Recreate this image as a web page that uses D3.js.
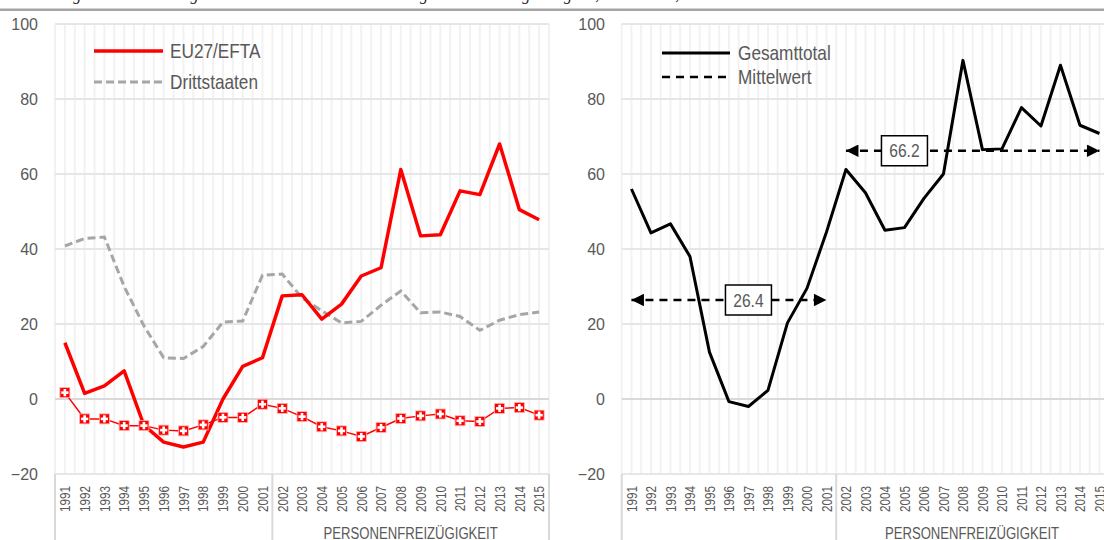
<!DOCTYPE html>
<html><head><meta charset="utf-8">
<script src="https://cdn.jsdelivr.net/npm/d3@7"></script>
<style>
html,body{margin:0;padding:0;background:#fff;}
svg{display:block;}
</style></head>
<body>
<svg id="chart" width="1104" height="540"></svg>
<script>
// ---- data ----
const years = ["1991","1992","1993","1994","1995","1996","1997","1998","1999","2000","2001","2002","2003","2004","2005","2006","2007","2008","2009","2010","2011","2012","2013","2014","2015"];
const euEfta = [15,1.5,3.5,7.5,-7,-11.5,-12.8,-11.5,0,8.7,11,27.5,27.8,21.3,25.3,32.8,35,61.2,43.5,43.8,55.5,54.5,68,50.5,47.8];
const drittstaaten = [40.8,42.8,43.2,30,19.5,11,10.8,14,20.5,20.8,33,33.3,27,23.5,20.3,20.7,25,28.8,23,23.2,22,18.3,21,22.5,23.2];
const schweiz = [1.7,-5.3,-5.3,-7.1,-7.1,-8.3,-8.5,-6.9,-4.9,-4.9,-1.4,-2.5,-4.7,-7.4,-8.5,-10,-7.6,-5.2,-4.5,-4,-5.8,-6,-2.5,-2.3,-4.3];
const gesamttotal = [56,44.3,46.7,38,12.5,-0.7,-2,2.3,20.3,29.5,44.5,61.2,55,45,45.7,53.5,60,90.3,66.5,66.7,77.7,72.8,89,73,70.8];
const mittelwert = [
  {from:"1991", to:"2001", value:26.4, label:"26.4", at:"1997"},
  {from:"2002", to:"2015", value:66.2, label:"66.2", at:"2005"}
];
const yTicks = [-20,0,20,40,60,80,100];
const groupLabel = "PERSONENFREIZÜGIGKEIT";
const groupStart = "2002";
const legendLeft = ["EU27/EFTA","Drittstaaten"];
const legendRight = ["Gesamttotal","Mittelwert"];
const caption = "Wanderungssaldo der ständigen ausländischen Wohnbevölkerung nach Staatsangehörigkeit, 1991–2015, in Tausend";

const svg = d3.select("#chart");
const SANS = "'Liberation Sans',Arial,sans-serif";
const TXT = "#595959";
const NX = 0.82; // horizontal condensing to imitate a narrow face

function narrowText(parent, x, y, str, size, anchor) {
  return parent.append("text")
    .attr("transform",`translate(${x},${y}) scale(${NX},1)`)
    .attr("dy","0.35em").attr("text-anchor",anchor||"start")
    .attr("font-family",SANS).attr("font-size",size).attr("fill",TXT).text(str);
}

// caption (cut at top) and rule
svg.append("text").attr("x",8).attr("y",0)
  .attr("font-family","'Liberation Serif',serif").attr("font-style","italic")
  .attr("font-size",16).attr("fill","#222").text(caption);
svg.append("rect").attr("x",0).attr("y",8.5).attr("width",1104).attr("height",2.5).attr("fill","#a6a6a6");

const y = d3.scaleLinear().domain([-20,100]).range([474,24]);

function panel(x0, x1, axisX, rightClip) {
  const g = svg.append("g");
  const x = d3.scaleBand().domain(years).range([x0,x1]).paddingInner(0).paddingOuter(0);
  const bw = x.bandwidth();
  // vertical gridlines (band edges + centers)
  const vlines = [];
  years.forEach(yr => { vlines.push(x(yr)); vlines.push(x(yr)+bw/2); });
  vlines.push(x1);
  g.append("g").selectAll("line").data(vlines).join("line")
    .attr("x1",d=>d).attr("x2",d=>d).attr("y1",y(100)).attr("y2",y(-20))
    .attr("stroke","#f2f2f2").attr("stroke-width",2);
  // horizontal gridlines
  g.append("g").selectAll("line").data(yTicks).join("line")
    .attr("x1",x0).attr("x2",Math.min(x1,rightClip)).attr("y1",d=>y(d)).attr("y2",d=>y(d))
    .attr("stroke",d=>d===0?"#d9d9d9":"#e6e6e6").attr("stroke-width",2);
  // y tick labels via axis
  const ya = d3.axisLeft(y).tickValues(yTicks).tickSize(0).tickPadding(0).tickFormat(d3.format("d"));
  const ag = g.append("g").attr("transform",`translate(${axisX},0)`).call(ya);
  ag.select(".domain").remove();
  ag.selectAll("text").attr("font-family",SANS).attr("font-size",16).attr("fill",TXT);
  // category axis
  const YS = 0.78;
  const xa = d3.axisBottom(x).tickSize(0).tickPadding(0);
  const xg = g.append("g").attr("transform",`translate(0,${y(-20)})`).call(xa);
  xg.select(".domain").remove();
  xg.selectAll(".tick text")
    .attr("font-family",SANS).attr("font-size",15).attr("fill",TXT)
    .attr("transform",`rotate(-90) scale(${YS},1)`).attr("text-anchor","end")
    .attr("x",-12/YS).attr("y",0).attr("dy","0.35em");
  // group separators
  const seps = [x0, x(groupStart), x1];
  g.append("g").selectAll("line").data(seps).join("line")
    .attr("x1",d=>d).attr("x2",d=>d).attr("y1",y(-20)).attr("y2",540)
    .attr("stroke","#d9d9d9").attr("stroke-width",2);
  const gx = x1 > rightClip ? 972 : (x(groupStart)+x1)/2;
  narrowText(g, gx, 533, groupLabel, 16, "middle");
  return {g, x, bw};
}

// ---- left panel ----
const L = panel(55, 549, 38, 549);
const lx = yr => L.x(yr) + L.bw/2;
const line = d3.line().x((d,i)=>lx(years[i])).y(d=>y(d));
L.g.append("path").datum(drittstaaten).attr("d",line).attr("fill","none")
  .attr("stroke","#a6a6a6").attr("stroke-width",3).attr("stroke-dasharray","8,4");
L.g.append("path").datum(euEfta).attr("d",line).attr("fill","none")
  .attr("stroke","#ff0000").attr("stroke-width",3.5).attr("stroke-linejoin","round");
L.g.append("path").datum(schweiz).attr("d",line).attr("fill","none")
  .attr("stroke","#ff0000").attr("stroke-width",1.5);
const mk = L.g.append("g").selectAll("g").data(schweiz).join("g")
  .attr("transform",(d,i)=>`translate(${lx(years[i])},${y(d)})`);
mk.append("rect").attr("x",-5).attr("y",-5).attr("width",10).attr("height",10)
  .attr("fill","#ff0000").attr("stroke","#ffb3b3").attr("stroke-width",0.8);
mk.append("rect").attr("x",-1.3).attr("y",-3.6).attr("width",2.6).attr("height",7.2).attr("fill","#fff");
mk.append("rect").attr("x",-3.6).attr("y",-1.3).attr("width",7.2).attr("height",2.6).attr("fill","#fff");
// legend left
const lg = L.g.append("g");
lg.append("line").attr("x1",94).attr("x2",163).attr("y1",51).attr("y2",51).attr("stroke","#ff0000").attr("stroke-width",3.5);
lg.append("line").attr("x1",94).attr("x2",163).attr("y1",82).attr("y2",82).attr("stroke","#a6a6a6").attr("stroke-width",3).attr("stroke-dasharray","8,4");
legendLeft.forEach((t,i)=>narrowText(lg, 170, [51,82][i], t, 21));

// ---- right panel ----
const R = panel(621.7, 621.7+25*19.5, 605, 1104);
const rx = yr => R.x(yr) + R.bw/2;
const rline = d3.line().x((d,i)=>rx(years[i])).y(d=>y(d));
R.g.append("path").datum(gesamttotal).attr("d",rline).attr("fill","none")
  .attr("stroke","#000").attr("stroke-width",3).attr("stroke-linejoin","round");
// mean arrows
const defs = svg.append("defs");
defs.append("marker").attr("id","arrE").attr("viewBox","0 0 10 10").attr("refX",10).attr("refY",5)
  .attr("markerWidth",5.5).attr("markerHeight",5).attr("markerUnits","strokeWidth").attr("orient","auto")
  .append("path").attr("d","M0,0L10,5L0,10Z").attr("fill","#000");
defs.append("marker").attr("id","arrS").attr("viewBox","0 0 10 10").attr("refX",0).attr("refY",5)
  .attr("markerWidth",5.5).attr("markerHeight",5).attr("markerUnits","strokeWidth").attr("orient","auto")
  .append("path").attr("d","M10,0L0,5L10,10Z").attr("fill","#000");
mittelwert.forEach(m => {
  const gy = y(m.value);
  R.g.append("line").attr("x1",rx(m.from)).attr("x2",rx(m.to)).attr("y1",gy).attr("y2",gy)
    .attr("stroke","#000").attr("stroke-width",2.5).attr("stroke-dasharray","8,6")
    .attr("marker-start","url(#arrS)").attr("marker-end","url(#arrE)");
  const cx = rx(m.at);
  R.g.append("rect").attr("x",cx-23).attr("y",gy-15).attr("width",46).attr("height",30)
    .attr("fill","#fff").attr("stroke","#000").attr("stroke-width",1.5);
  narrowText(R.g, cx, gy, m.label, 19, "middle");
});
// legend right
const rg = R.g.append("g");
rg.append("line").attr("x1",662).attr("x2",730).attr("y1",53).attr("y2",53).attr("stroke","#000").attr("stroke-width",3);
rg.append("line").attr("x1",662).attr("x2",730).attr("y1",77).attr("y2",77).attr("stroke","#000").attr("stroke-width",2.5).attr("stroke-dasharray","8,6");
legendRight.forEach((t,i)=>narrowText(rg, 738, [53,77][i], t, 21));
</script>
</body></html>
